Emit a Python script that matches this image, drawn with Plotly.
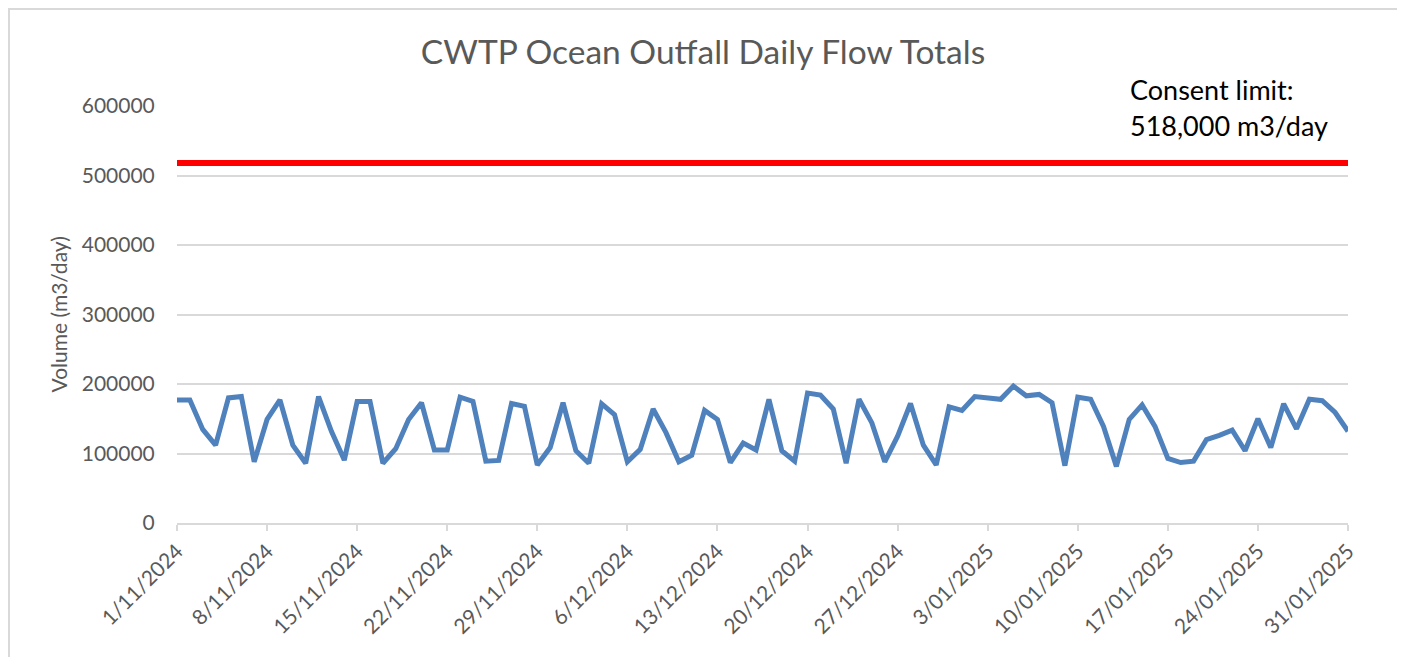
import pandas as pd
import plotly.graph_objects as go

start_date = "2024-11-01"
end_date = "2025-01-31"

daily_flow = [
    177000, 177000, 134600, 112000, 180000, 182000, 88000, 149000, 177000, 112000,
    86000, 182000, 132000, 90500, 175000, 175000, 86000, 107000, 149000, 173000,
    105000, 105000, 181000, 175000, 89000, 90000, 172000, 168000, 83500, 108500,
    173000, 104000, 86000, 171500, 156000, 88000, 106000, 164000, 130000, 88000,
    97500, 162000, 149000, 87000, 115000, 105000, 178000, 104000, 89000, 187000,
    184000, 164000, 86000, 178000, 144000, 88000, 125000, 172000, 112000, 83500,
    167000, 162000, 182000, 180000, 178000, 197000, 183000, 185000, 173000, 82500,
    181000, 178000, 139000, 81500, 149000, 170000, 139000, 93000, 87000, 89000,
    120000, 126000, 133500, 104000, 150000, 108500, 171500, 135500, 178000, 176000,
    159000, 132000,
]

consent_limit = 518000
limit_label = ["Consent limit:", "518,000 m3/day"]

dates = pd.date_range(start_date, end_date, freq="D")

grey_text = "#595959"
grid = "#d9d9d9"

# page body has an 8px margin, so the figure is drawn 8px in from the corner
fig = go.Figure()

fig.add_trace(go.Scatter(
    x=[dates[0], dates[-1]], y=[consent_limit, consent_limit],
    mode="lines", line=dict(color="#ff0000", width=6), hoverinfo="skip",
))

fig.add_trace(go.Scatter(
    x=dates, y=daily_flow, mode="lines",
    line=dict(color="#4f81bd", width=5),
))

fig.update_layout(
    width=1397, height=649,
    margin=dict(l=169, r=57, t=98, b=134),
    paper_bgcolor="white", plot_bgcolor="white",
    showlegend=False,
    font=dict(family="Lato", color=grey_text),
    title=dict(
        text="CWTP Ocean Outfall Daily Flow Totals",
        x=(703 - 8) / 1397, xanchor="center", y=1 - 44 / 649, yanchor="middle",
        font=dict(size=33.5, color=grey_text),
    ),
    xaxis=dict(
        range=[dates[0], dates[-1]],
        tick0=start_date, dtick=7 * 86400000,
        tickformat="%-d/%m/%Y", tickangle=-45,
        tickfont=dict(size=21, color=grey_text),
        ticks="outside", ticklen=6, tickcolor=grid, tickwidth=1.5,
        showline=True, linecolor=grid, linewidth=1.5,
        showgrid=False, zeroline=False,
    ),
    yaxis=dict(
        range=[0, 600000], dtick=100000, tickformat="d",
        tickfont=dict(size=21, color=grey_text),
        ticks="outside", ticklen=17, tickcolor="rgba(0,0,0,0)",
        showgrid=True, gridcolor=grid, gridwidth=1.5,
        zeroline=False, showline=False,
    ),
    annotations=[
        dict(text="Volume (m3/day)", xref="paper", yref="paper",
             x=(58 - 177) / 1171, y=0.5, textangle=-90, showarrow=False,
             xanchor="center", yanchor="middle",
             font=dict(size=21, color=grey_text)),
        dict(text=limit_label[0], xref="paper", yref="paper",
             x=(1128 - 177) / 1171, y=(523 - 89) / 417, showarrow=False,
             xanchor="left", yanchor="middle",
             font=dict(size=27, color="#000000")),
        dict(text=limit_label[1], xref="paper", yref="paper",
             x=(1128 - 177) / 1171, y=(523 - 125) / 417, showarrow=False,
             xanchor="left", yanchor="middle",
             font=dict(size=27, color="#000000")),
    ],
    shapes=[
        dict(type="rect", xref="paper", yref="paper",
             x0=(9 - 177) / 1171, x1=(1398 - 177) / 1171,
             y0=(523 - 670) / 417, y1=(523 - 9) / 417,
             line=dict(color=grid, width=2), layer="below"),
    ],
)

fig.write_html("out.html")
